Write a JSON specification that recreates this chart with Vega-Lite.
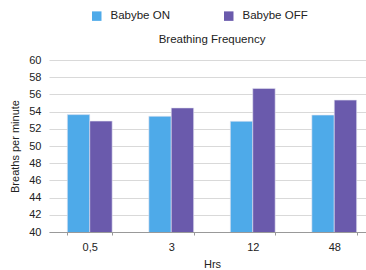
{
  "$schema": "https://vega.github.io/schema/vega-lite/v6.json",
  "autosize": "none",
  "width": 326,
  "height": 172,
  "padding": {"left": 49, "top": 60, "right": 0, "bottom": 38},
  "background": "white",
  "title": {"text": "Breathing Frequency", "fontSize": 11.5, "fontWeight": "normal", "font": "Liberation Sans", "color": "#222", "offset": 12, "dy": 47},
  "data": {"values": [
    {"hrs": "0,5", "group": "Babybe ON", "value": 53.65},
    {"hrs": "0,5", "group": "Babybe OFF", "value": 52.9},
    {"hrs": "3", "group": "Babybe ON", "value": 53.46},
    {"hrs": "3", "group": "Babybe OFF", "value": 54.43},
    {"hrs": "12", "group": "Babybe ON", "value": 52.88},
    {"hrs": "12", "group": "Babybe OFF", "value": 56.7},
    {"hrs": "48", "group": "Babybe ON", "value": 53.6},
    {"hrs": "48", "group": "Babybe OFF", "value": 55.34}
  ]},
  "mark": {"type": "bar", "stroke": "#e6e6f2", "strokeWidth": 0.6, "clip": true},
  "encoding": {
    "x": {"field": "hrs", "type": "nominal", "sort": ["0,5", "3", "12", "48"], "title": "Hrs",
      "scale": {"paddingInner": 0.45, "paddingOuter": 0.225},
      "axis": {"labelAngle": 0, "tickBand": "extent", "tickSize": 3, "tickColor": "#999", "domainColor": "#999", "labelPadding": 6, "titlePadding": 6}},
    "xOffset": {"field": "group", "type": "nominal", "sort": ["Babybe ON", "Babybe OFF"], "scale": {"paddingInner": 0, "paddingOuter": 0}},
    "y": {"field": "value", "type": "quantitative", "title": "Breaths per minute",
      "scale": {"domain": [40, 60], "nice": false, "zero": false},
      "axis": {"values": [40,42,44,46,48,50,52,54,56,58,60], "labelOverlap": false, "ticks": false, "domain": false, "gridColor": "#d9d9d9", "labelPadding": 8, "titlePadding": 8}},
    "color": {"field": "group", "type": "nominal", "sort": ["Babybe ON", "Babybe OFF"],
      "scale": {"range": ["#4eaae9", "#6a5aac"]},
      "legend": {"title": null, "orient": "none", "direction": "horizontal", "legendX": 42, "legendY": -50, "symbolType": "square", "symbolSize": 90, "symbolStrokeWidth": 0, "columnPadding": 53, "labelFontSize": 11.5, "labelOffset": 8}}
  },
  "config": {
    "font": "Liberation Sans",
    "view": {"stroke": null},
    "axis": {"labelFont": "Liberation Sans", "titleFont": "Liberation Sans", "labelFontSize": 11, "titleFontSize": 11, "titleFontWeight": "normal", "labelColor": "#222", "titleColor": "#222"},
    "legend": {"labelFont": "Liberation Sans", "labelColor": "#222"}
  }
}
